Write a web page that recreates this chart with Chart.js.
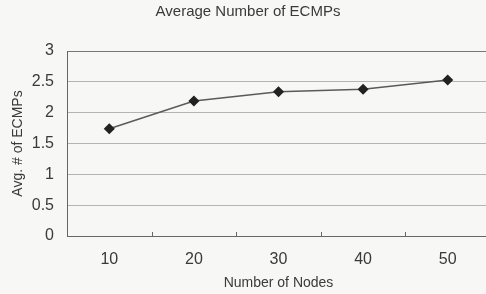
<!DOCTYPE html>
<html>
<head>
<meta charset="utf-8">
<script src="https://cdn.jsdelivr.net/npm/chart.js@4/dist/chart.umd.min.js"></script>
<style>
  html, body { margin: 0; padding: 0; background: #f7f7f5; overflow: hidden; }
  #wrap { position: absolute; left: 0; top: 0; width: 496px; height: 294px; }
</style>
</head>
<body>
<div id="wrap"><canvas id="myChart"></canvas></div>
<script>
'use strict';

// data
var nodes = ['10', '20', '30', '40', '50'];
var avgEcmps = [1.74, 2.19, 2.34, 2.38, 2.53];

var textColor = '#3a3a3a';
var fontFamily = '"Liberation Sans", Arial, sans-serif';

// small inward tick marks between categories, like the original
var innerTicks = {
    id: 'innerTicks',
    afterDatasetsDraw: function (chart) {
        var x = chart.scales.x, area = chart.chartArea, c = chart.ctx;
        c.save();
        c.strokeStyle = '#666';
        c.lineWidth = 1;
        for (var i = 0; i < nodes.length - 1; i++) {
            var px = Math.round((x.getPixelForValue(i) + x.getPixelForValue(i + 1)) / 2) + 0.5;
            c.beginPath();
            c.moveTo(px, area.bottom);
            c.lineTo(px, area.bottom - 4);
            c.stroke();
        }
        c.restore();
    }
};

var ctx = document.getElementById('myChart').getContext('2d');
var chart = new Chart(ctx, {
    type: 'line',
    data: {
        labels: nodes,
        datasets: [{
            label: 'Avg. # of ECMPs',
            data: avgEcmps,
            borderColor: '#5a5a5a',
            borderWidth: 1.5,
            pointStyle: 'rectRot',
            pointRadius: 4.5,
            pointBackgroundColor: '#222',
            pointBorderColor: '#222',
            tension: 0
        }]
    },
    options: {
        responsive: true,
        maintainAspectRatio: false,
        animation: false,
        layout: { padding: 0 },
        plugins: {
            legend: { display: false },
            tooltip: { enabled: false },
            title: {
                display: true,
                text: 'Average Number of ECMPs',
                color: textColor,
                font: { family: fontFamily, size: 15, weight: 'normal' },
                padding: { top: 3, bottom: 30 }
            }
        },
        scales: {
            x: {
                offset: true,
                afterFit: function (scale) { scale.height = 58; },
                grid: { display: false, drawTicks: false },
                border: { display: true, color: '#666', width: 1 },
                ticks: {
                    color: textColor,
                    font: { family: fontFamily, size: 16 },
                    padding: 14
                },
                title: {
                    display: true,
                    text: 'Number of Nodes',
                    color: textColor,
                    font: { family: fontFamily, size: 14 },
                    padding: { top: 3, bottom: 2 }
                }
            },
            y: {
                min: 0,
                max: 3,
                afterFit: function (scale) { scale.width = 67; },
                grid: {
                    drawTicks: false,
                    color: function (c) { return c.tick && c.tick.value === 3 ? '#777' : '#b4b4b4'; },
                    lineWidth: 1
                },
                border: { display: true, color: '#666', width: 1 },
                ticks: {
                    stepSize: 0.5,
                    color: textColor,
                    font: { family: fontFamily, size: 16 },
                    padding: 13,
                    callback: function (v) { return String(v); }
                },
                title: {
                    display: true,
                    text: 'Avg. # of ECMPs',
                    color: textColor,
                    font: { family: fontFamily, size: 14 },
                    padding: { top: 10, bottom: 0 }
                }
            }
        }
    },
    plugins: [innerTicks]
});
</script>
</body>
</html>
